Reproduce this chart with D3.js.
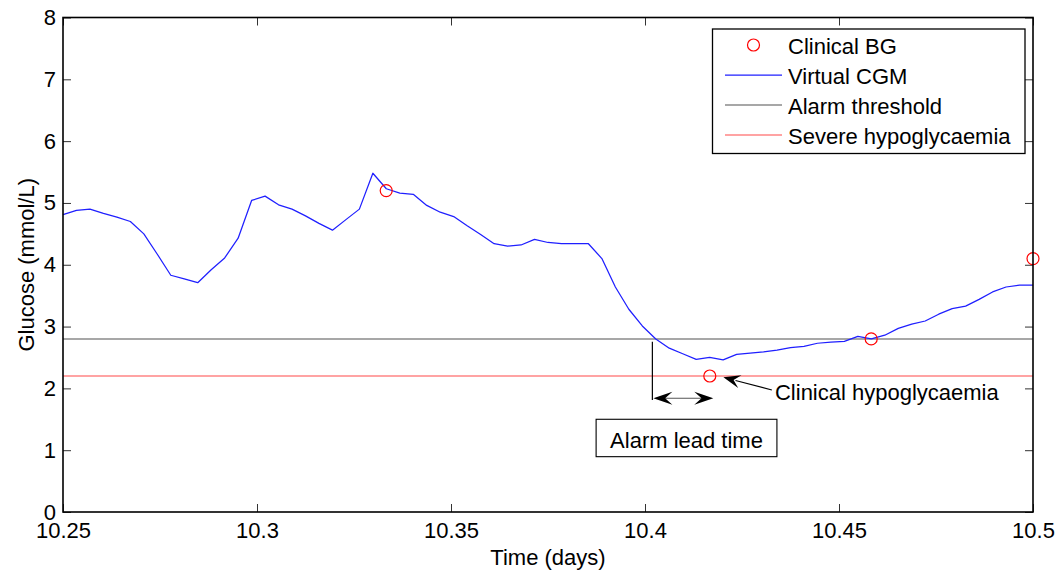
<!DOCTYPE html>
<html>
<head>
<meta charset="utf-8">
<script src="https://cdn.jsdelivr.net/npm/d3@7"></script>
<style>
  html, body { margin: 0; padding: 0; background: #fff; }
  svg text { font-family: Arial, "Liberation Sans", Helvetica, sans-serif; fill: #000; }
</style>
</head>
<body>
<svg id="chart" width="1059" height="573"></svg>
<script>
// ---- data -------------------------------------------------------------
const xTicks = [10.25, 10.3, 10.35, 10.4, 10.45, 10.5];
const yTicks = [0, 1, 2, 3, 4, 5, 6, 7, 8];

// Virtual CGM trace, one reading every 5 minutes from day 10.25
const cgmStart = 10.25;
const cgmStepDays = 5 / 1440;
const cgmValues = [
  4.81, 4.88, 4.90, 4.83, 4.77, 4.70, 4.50, 4.17, 3.83, 3.77,
  3.71, 3.92, 4.11, 4.43, 5.04, 5.11, 4.97, 4.90, 4.79, 4.67,
  4.56, 4.73, 4.90, 5.48, 5.23, 5.16, 5.14, 4.96, 4.85, 4.78,
  4.63, 4.49, 4.34, 4.30, 4.32, 4.41, 4.36, 4.34, 4.34, 4.34,
  4.10, 3.64, 3.28, 3.01, 2.80, 2.65, 2.56, 2.47, 2.50, 2.46,
  2.55, 2.57, 2.59, 2.62, 2.66, 2.68, 2.73, 2.75, 2.76, 2.84,
  2.80, 2.86, 2.97, 3.04, 3.09, 3.20, 3.29, 3.33, 3.44, 3.56,
  3.64, 3.67, 3.67
];

// Clinical blood glucose samples (hourly)
const bgTimes  = [10.3333, 10.4167, 10.4583, 10.5];
const bgValues = [5.2, 2.2, 2.8, 4.1];

const alarmThreshold = 2.8;
const severeHypoLevel = 2.2;

const legendLabels = ["Clinical BG", "Virtual CGM", "Alarm threshold", "Severe hypoglycaemia"];

// annotation anchors (time in days, glucose in mmol/L)
const alarmTime = 10.4019;
const hypoTime = 10.4176;
const leadArrowLevel = 1.84;
const alarmMarkerTop = 2.755;
const alarmMarkerBottom = 1.81;
const hypoLabel = { text: "Clinical hypoglycaemia", t: 10.4335, g: 1.81 };
const hypoArrow = { t0: 10.4327, g0: 1.974, t1: 10.4202, g1: 2.179 };
const leadBox = { text: "Alarm lead time", t0: 10.3874, t1: 10.4340, g0: 0.895, g1: 1.50, g: 1.035 };

// ---- layout -----------------------------------------------------------
const W = 1059, H = 573;
const plot = { left: 63, right: 1033, top: 17.5, bottom: 512 };
const FONT = 22;

const svg = d3.select("#chart");
const x = d3.scaleLinear().domain([10.25, 10.5]).range([plot.left, plot.right]);
const y = d3.scaleLinear().domain([0, 8]).range([plot.bottom, plot.top]);

const fmtX = d => String(+d.toFixed(2));

// axes (MATLAB-like boxed axes with inward ticks)
const gx = svg.append("g").attr("transform", `translate(0,${plot.bottom})`)
  .call(d3.axisBottom(x).tickValues(xTicks).tickFormat(fmtX).tickSizeInner(-8).tickSizeOuter(0).tickPadding(10.5));
const gy = svg.append("g").attr("transform", `translate(${plot.left},0)`)
  .call(d3.axisLeft(y).tickValues(yTicks).tickFormat(d3.format("d")).tickSizeInner(-8).tickSizeOuter(0).tickPadding(7));
const gxt = svg.append("g").attr("transform", `translate(0,${plot.top})`)
  .call(d3.axisTop(x).tickValues(xTicks).tickFormat("").tickSizeInner(-8).tickSizeOuter(0));
const gyr = svg.append("g").attr("transform", `translate(${plot.right},0)`)
  .call(d3.axisRight(y).tickValues(yTicks).tickFormat("").tickSizeInner(-8).tickSizeOuter(0));

[gx, gy, gxt, gyr].forEach(g => {
  g.select(".domain").remove();
  g.selectAll(".tick line").attr("stroke", "#333").attr("stroke-width", 1);
  g.selectAll(".tick text").attr("font-size", FONT).attr("font-family", "Arial, 'Liberation Sans', sans-serif").attr("fill", "#000");
});

// reference lines
svg.append("line")
  .attr("x1", x(10.25)).attr("x2", x(10.5))
  .attr("y1", y(alarmThreshold)).attr("y2", y(alarmThreshold))
  .attr("stroke", "#8a8a8a").attr("stroke-width", 1.6);
svg.append("line")
  .attr("x1", x(10.25)).attr("x2", x(10.5))
  .attr("y1", y(severeHypoLevel)).attr("y2", y(severeHypoLevel))
  .attr("stroke", "#ff8484").attr("stroke-width", 1.6);

// CGM trace
const cgm = cgmValues.map((v, i) => ({ t: cgmStart + i * cgmStepDays, g: v }));
svg.append("path")
  .datum(cgm)
  .attr("fill", "none")
  .attr("stroke", "#1f1fff")
  .attr("stroke-width", 1.25)
  .attr("stroke-linejoin", "round")
  .attr("d", d3.line().x(d => x(d.t)).y(d => y(d.g)));

// clinical BG markers
svg.append("g").selectAll("circle")
  .data(bgTimes.map((t, i) => ({ t, g: bgValues[i] })))
  .join("circle")
  .attr("cx", d => x(d.t)).attr("cy", d => y(d.g)).attr("r", 6)
  .attr("fill", "none").attr("stroke", "#ff0000").attr("stroke-width", 1.2);

// frame
svg.append("rect")
  .attr("x", plot.left).attr("y", plot.top)
  .attr("width", plot.right - plot.left).attr("height", plot.bottom - plot.top)
  .attr("fill", "none").attr("stroke", "#000").attr("stroke-width", 1.6);

// axis titles
svg.append("text")
  .attr("x", (plot.left + plot.right) / 2).attr("y", 564.5)
  .attr("text-anchor", "middle").attr("font-size", FONT)
  .text("Time (days)");
svg.append("text")
  .attr("transform", `translate(33.5,${(plot.top + plot.bottom) / 2}) rotate(-90)`)
  .attr("text-anchor", "middle").attr("font-size", FONT)
  .text("Glucose (mmol/L)");

// ---- legend -----------------------------------------------------------
const lg = svg.append("g");
lg.append("rect")
  .attr("x", 712.5).attr("y", 29).attr("width", 312.5).attr("height", 124.5)
  .attr("fill", "#fff").attr("stroke", "#000").attr("stroke-width", 1.3);
const rowY = i => 45 + i * 30;
const legendStyles = [
  { type: "circle" },
  { type: "line", color: "#1f1fff", width: 1.25 },
  { type: "line", color: "#8a8a8a", width: 1.6 },
  { type: "line", color: "#ff8484", width: 1.6 }
];
legendLabels.forEach((label, i) => {
  const s = legendStyles[i];
  if (s.type === "circle") {
    lg.append("circle").attr("cx", 753.5).attr("cy", rowY(i)).attr("r", 6)
      .attr("fill", "none").attr("stroke", "#ff0000").attr("stroke-width", 1.2);
  } else {
    lg.append("line").attr("x1", 725).attr("x2", 782).attr("y1", rowY(i)).attr("y2", rowY(i))
      .attr("stroke", s.color).attr("stroke-width", s.width);
  }
  lg.append("text").attr("x", 788).attr("y", rowY(i) + 8.5)
    .attr("font-size", FONT).text(label);
});

// ---- annotations ------------------------------------------------------
// arrowhead shape pointing along +x, tip at origin
function headPath(L, Wd) {
  return `M0,0 L${-L},${-Wd / 2} L${-L * 0.62},0 L${-L},${Wd / 2} Z`;
}
function drawHead(g, tipX, tipY, angleDeg, L, Wd) {
  g.append("path")
    .attr("d", headPath(L, Wd))
    .attr("transform", `translate(${tipX},${tipY}) rotate(${angleDeg})`)
    .attr("fill", "#000");
}

const an = svg.append("g");

// alarm marker (vertical line at threshold crossing)
an.append("line")
  .attr("x1", x(alarmTime)).attr("x2", x(alarmTime))
  .attr("y1", y(alarmMarkerTop)).attr("y2", y(alarmMarkerBottom))
  .attr("stroke", "#000").attr("stroke-width", 1.2);

// lead time double arrow
const ax0 = x(alarmTime) + 1, ax1 = x(hypoTime), ay = y(leadArrowLevel);
an.append("line").attr("x1", ax0 + 10).attr("x2", ax1 - 10).attr("y1", ay).attr("y2", ay)
  .attr("stroke", "#555").attr("stroke-width", 1.2);
drawHead(an, ax0, ay, 180, 19, 13);
drawHead(an, ax1, ay, 0, 19, 13);

// pointer to clinical hypoglycaemia sample
const px0 = x(hypoArrow.t0), py0 = y(hypoArrow.g0);
const px1 = x(hypoArrow.t1), py1 = y(hypoArrow.g1);
const ang = Math.atan2(py1 - py0, px1 - px0) * 180 / Math.PI;
an.append("line").attr("x1", px0).attr("y1", py0)
  .attr("x2", px1 + (px0 - px1) * 0.25).attr("y2", py1 + (py0 - py1) * 0.25)
  .attr("stroke", "#000").attr("stroke-width", 1.1);
drawHead(an, px1, py1, ang, 17, 13);

an.append("text")
  .attr("x", x(hypoLabel.t)).attr("y", y(hypoLabel.g))
  .attr("font-size", FONT).text(hypoLabel.text);

// lead time label box
an.append("rect")
  .attr("x", x(leadBox.t0)).attr("y", y(leadBox.g1))
  .attr("width", x(leadBox.t1) - x(leadBox.t0)).attr("height", y(leadBox.g0) - y(leadBox.g1))
  .attr("fill", "#fff").attr("stroke", "#000").attr("stroke-width", 1.1);
an.append("text")
  .attr("x", (x(leadBox.t0) + x(leadBox.t1)) / 2).attr("y", y(leadBox.g))
  .attr("text-anchor", "middle").attr("font-size", FONT)
  .text(leadBox.text);
</script>
</body>
</html>
